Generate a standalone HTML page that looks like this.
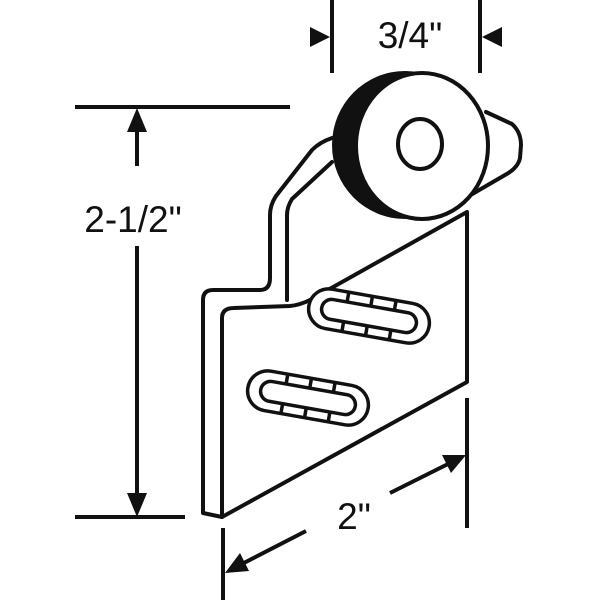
<!DOCTYPE html>
<html><head><style>
html,body{margin:0;padding:0;background:#fff;}
svg{display:block;}
text{font-family:"Liberation Sans",Arial,sans-serif;fill:#111;}
</style></head><body>
<svg width="600" height="600" viewBox="0 0 600 600" xmlns="http://www.w3.org/2000/svg">
<rect width="600" height="600" fill="#fff"/>
<g stroke="#111" stroke-width="4" fill="none" stroke-linejoin="round" stroke-linecap="round">
  <!-- back edge of bracket -->
  <path d="M203,300 Q203,290 213,290 L260,290 Q270,290 270,278 L270,215 Q270,205 276,196 L312,150 Q320,142 332,138"/>
  <path d="M203,300 L203,513 L222,517"/>
  <path d="M287,300 L287,215 Q287,207 292,199 L332,162"/>
  <!-- front face -->
  <path d="M222,517 L222,318 Q222,308 234,308 L290,306 Q300,305 310,300 L467,212 L467,382 Z" fill="#fff"/>
  <!-- right tab -->
  <path d="M486,112 L512,124 Q521,132 521,145 L520,158 Q518,168 505,175 L462,200"/>
</g>
<!-- wheel -->
<ellipse cx="405" cy="145" rx="73" ry="74" fill="#111"/>
<ellipse cx="422" cy="146" rx="66" ry="73" fill="#fff" stroke="#111" stroke-width="4"/>
<ellipse cx="420" cy="144" rx="22" ry="25" fill="#fff" stroke="#111" stroke-width="4"/>
<!-- slots -->
<g stroke="#111" stroke-width="3.5" fill="#fff">
  <g transform="translate(369,316) rotate(10)">
    <rect x="-61" y="-20" width="122" height="40" rx="20"/>
    <rect x="-48" y="-10" width="96" height="20" rx="10"/>
    <path d="M-24,-20 V-10 M0,-20 V-10 M24,-20 V-10 M-24,10 V20 M0,10 V20 M24,10 V20"/>
  </g>
  <g transform="translate(308,398) rotate(10)">
    <rect x="-61" y="-20" width="122" height="40" rx="20"/>
    <rect x="-48" y="-10" width="96" height="20" rx="10"/>
    <path d="M-24,-20 V-10 M0,-20 V-10 M24,-20 V-10 M-24,10 V20 M0,10 V20 M24,10 V20"/>
  </g>
</g>
<!-- dimensions -->
<g stroke="#111" stroke-width="4" fill="none">
  <path d="M332,0 V73 M480,0 V73"/>
  <path d="M75,107 H290 M75,517 H185"/>
  <path d="M137,126 V166 M137,246 V498"/>
  <path d="M467,398 V528 M223,528 V600"/>
  <path d="M238,566 L306,531 M390,493 L452,462"/>
</g>
<g fill="#111">
  <polygon points="330,37 310,27 310,47"/>
  <polygon points="482,37 502,27 502,47"/>
  <polygon points="137,108 127,132 147,132"/>
  <polygon points="137,517 127,493 147,493"/>
  <polygon points="225,573 240,553 249,571"/>
  <polygon points="466,455 442,455 451,473"/>
</g>
<text x="410" y="48" font-size="37" text-anchor="middle">3/4"</text>
<text x="133" y="232" font-size="37" text-anchor="middle">2-1/2"</text>
<text x="354" y="529" font-size="37" text-anchor="middle">2"</text>
</svg>
</body></html>
